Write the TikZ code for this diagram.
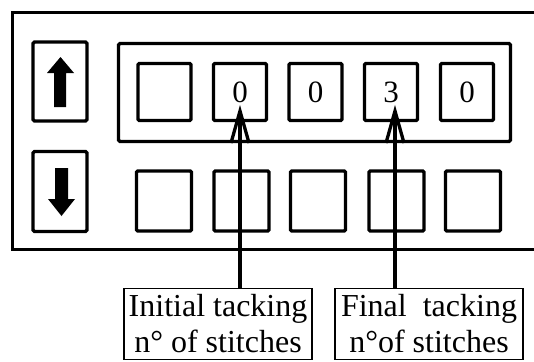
\documentclass[tikz,border=0pt]{standalone}
\usepackage{fontspec}
\setmainfont{Liberation Serif}
\usetikzlibrary{calc}
\begin{document}
\begin{tikzpicture}[x=1pt,y=-1pt,
  thick line/.style={line width=3.3pt},
  btn/.style={draw, thick line, rounded corners=1.5pt, minimum width=54pt, minimum height=79pt, inner sep=0pt},
  cell/.style={draw, thick line, rounded corners=1.2pt, minimum width=53pt, minimum height=57pt, inner sep=0pt, font=\fontsize{31}{31}\selectfont},
  lowcell/.style={cell, minimum width=55pt, minimum height=60pt},
  lab/.style={draw, line width=1.5pt, inner sep=0pt, align=center, minimum width=188pt, minimum height=71pt, font=\fontsize{32}{36}\selectfont},
  pointer/.style={line width=3.3pt},
  iconarrow/.style={fill=black}
]
\useasboundingbox (0,0) rectangle (534,361);
% outer panel (open at the right)
\draw[thick line] (540,12.5) -- (12.5,12.5) -- (12.5,249.5) -- (540,249.5);
% up / down buttons
\node[btn] (up) at (60,81.5) {};
\node[btn, minimum height=80pt] (down) at (60,191.5) {};
\fill[iconarrow] (54,107) -- (54,73) -- (47,73) -- (60.5,57) -- (74,73) -- (66,73) -- (66,107) -- cycle;
\fill[iconarrow] (55,168) -- (55,199) -- (48,199) -- (61.5,216) -- (75,199) -- (68,199) -- (68,168) -- cycle;
% display frame
\node[draw, thick line, rounded corners=1.5pt, minimum width=392pt, minimum height=98pt, inner sep=0pt] (frame) at (314.5,92.5) {};
% top cells
\node[cell] (c1) at (164.5,92) {};
\node[cell] (c2) at (240,92) {0};
\node[cell] (c3) at (315.5,92) {0};
\node[cell] (c4) at (391,92) {3};
\node[cell] (c5) at (467,92) {0};
% bottom cells
\node[lowcell] (d1) at (164,201) {};
\node[lowcell] (d2) at (241.5,201) {};
\node[lowcell] (d3) at (318,201) {};
\node[lowcell] (d4) at (396.5,201) {};
\node[lowcell] (d5) at (473,201) {};
% labels
\node[lab] (l1) at (218,324) {Initial tacking\\n° of stitches};
\node[lab] (l2) at (429,324) {Final\ \ tacking\\n°of stitches};
% pointers
\coordinate (p1) at (240,111);
\coordinate (p2) at (395,111);
\draw[pointer] (l1.north -| p1) -- (p1);
\draw[pointer] (l2.north -| p2) -- (p2);
\draw[line width=3.3pt, line join=miter] ($(p1)+(-9,32)$) -- (p1) -- ($(p1)+(9,32)$);
\draw[line width=3.3pt, line join=miter] ($(p2)+(-9,32)$) -- (p2) -- ($(p2)+(9,32)$);
\end{tikzpicture}
\end{document}
